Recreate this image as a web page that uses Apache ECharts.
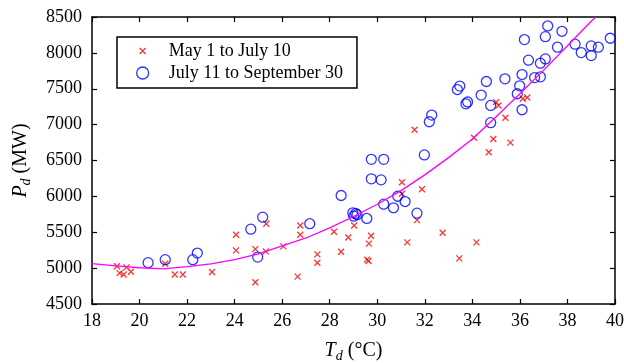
<!DOCTYPE html>
<html>
<head>
<meta charset="utf-8">
<script src="https://cdn.jsdelivr.net/npm/echarts@6/dist/echarts.min.js"></script>
<style>
  html, body { margin: 0; padding: 0; background: #fff; }
  #chart { width: 624px; height: 363px; }
</style>
</head>
<body>
<div id="chart"></div>
<script>
// May 1 to July 10
const earlyT = [19.05, 19.16, 19.33, 19.45, 19.64, 21.08, 21.48, 21.82, 23.05, 24.06, 24.06, 24.87, 24.87, 25.31, 25.33,
  26.05, 26.65, 26.76, 26.76, 27.48, 27.48, 28.18, 28.48, 28.78, 29.03, 29.74, 29.65, 29.57, 29.63, 31.04, 31.04,
  31.57, 31.88, 31.67, 31.26, 32.75, 33.45, 34.17, 34.07, 34.69, 34.88, 35.0, 35.1, 35.39, 35.6, 36.12, 36.31];
const earlyP = [5025, 4930, 4910, 5010, 4950, 5060, 4910, 4910, 4945, 5466, 5247, 5265, 4803, 5234, 5619,
  5303, 4882, 5595, 5466, 5192, 5076, 5507, 5229, 5428, 5595, 5452, 5341, 5118, 5099, 6197, 6036,
  6929, 6099, 5669, 5359, 5493, 5136, 5359, 6818, 6614, 6800, 7314, 7267, 7096, 6749, 7360, 7378];

// July 11 to September 30
const lateT = [20.36, 21.08, 22.24, 22.43, 24.68, 25.18, 24.97, 27.16, 28.48, 28.97, 29.01, 29.09, 29.15, 29.56,
  29.75, 30.27, 29.75, 30.16, 30.27, 30.68, 30.86, 31.17, 31.67, 31.98, 32.19, 32.29, 33.37, 33.47, 33.73, 33.8,
  34.37, 34.59, 34.77, 34.77, 35.37, 35.89, 35.99, 36.09, 36.09, 36.19, 36.36, 36.62, 36.86, 36.86, 37.07, 37.07,
  37.17, 37.58, 37.77, 38.32, 38.58, 39.0, 39.0, 39.3, 39.8];
const lateP = [5076, 5118, 5118, 5210, 5543, 5710, 5154, 5619, 6012, 5771, 5724, 5762, 5745, 5692,
  6516, 6516, 6244, 6230, 5891, 5841, 6002, 5928, 5766, 6578, 7040, 7133, 7489, 7537, 7290, 7315,
  7412, 7601, 7267, 7027, 7638, 7430, 7541, 7698, 7207, 8185, 7898, 7656, 7666, 7856, 7916, 8226,
  8375, 8079, 8301, 8121, 8004, 8097, 7962, 8079, 8204];

// fitted curve
const fitT = [18, 19, 20, 21, 22, 23, 24, 25, 26, 27, 28, 29, 30, 31, 32, 33, 34, 35, 36, 37, 38, 39, 39.2];
const fitP = [5062, 5030, 5005, 4990, 5020, 5060, 5120, 5200, 5310, 5420, 5560, 5720, 5890, 6080, 6300, 6540,
  6800, 7110, 7430, 7760, 8100, 8440, 8500];

const serif = 'Liberation Serif';
const zip = (a, b) => a.map((v, i) => [v, b[i]]);
// extra moveTo points pad the bounding box so the cross is drawn at half the symbol size
const crossPath = 'path://M0,0M10,10M2.5,2.5L7.5,7.5M7.5,2.5L2.5,7.5';

const chart = echarts.init(document.getElementById('chart'));
const axisCommon = {
  type: 'value',
  axisLine: { show: true, lineStyle: { color: '#000', width: 1.5 } },
  axisTick: { show: true, inside: true, length: 5, lineStyle: { color: '#000', width: 1.2 } },
  splitLine: { show: false },
};
const titleRich = {
  i: { fontFamily: serif, fontSize: 20, fontStyle: 'italic', color: '#000' },
  s: { fontFamily: serif, fontSize: 14, fontStyle: 'italic', color: '#000', padding: [10, 0, 0, 0] },
};
const option = {
  animation: false,
  grid: { left: 92, right: 9, top: 17, bottom: 59, outerBoundsMode: 'none' },
  legend: {
    left: 117,
    top: 37,
    orient: 'vertical',
    data: [
      { name: 'May 1 to July 10', itemStyle: { color: 'transparent', borderColor: '#ff0000', borderWidth: 1.3 } },
      { name: 'July 11 to September 30', itemStyle: { color: 'transparent', borderColor: '#0000ff', borderWidth: 1.3 } },
    ],
    itemWidth: 42,
    itemHeight: 12,
    itemGap: 4,
    padding: [5, 14, 6, 19],
    borderColor: '#000',
    borderWidth: 1.5,
    backgroundColor: '#fff',
    textStyle: { fontFamily: serif, fontSize: 18, color: '#000' },
  },
  xAxis: [
    {
      ...axisCommon,
      min: 18, max: 40, interval: 2,
      axisLabel: { fontFamily: serif, fontSize: 18, color: '#000', margin: 8 },
      name: '{i|T}{s|d} (°C)',
      nameLocation: 'middle',
      nameGap: 35,
      nameTextStyle: { fontFamily: serif, fontSize: 20, color: '#000', rich: titleRich },
    },
    { ...axisCommon, position: 'top', min: 18, max: 40, interval: 2, axisLabel: { show: false } },
  ],
  yAxis: [
    {
      ...axisCommon,
      min: 4500, max: 8500, interval: 500,
      axisLabel: { fontFamily: serif, fontSize: 18, color: '#000', margin: 10, formatter: (v) => String(v) },
      name: '{i|P}{s|d} (MW)',
      nameLocation: 'middle',
      nameRotate: 90,
      nameGap: 59,
      nameTextStyle: { fontFamily: serif, fontSize: 20, color: '#000', rich: titleRich },
    },
    { ...axisCommon, position: 'right', min: 4500, max: 8500, interval: 500, axisLabel: { show: false } },
  ],
  series: [
    {
      name: 'May 1 to July 10',
      type: 'scatter',
      data: zip(earlyT, earlyP),
      symbol: crossPath,
      symbolSize: 12,
      itemStyle: { color: 'transparent', borderColor: '#ff0000', borderWidth: 1.3 },
    },
    {
      name: 'July 11 to September 30',
      type: 'scatter',
      data: zip(lateT, lateP),
      symbol: 'circle',
      symbolSize: 10,
      itemStyle: { color: 'transparent', borderColor: '#0000ff', borderWidth: 1.3 },
    },
    {
      name: 'fit',
      type: 'line',
      data: zip(fitT, fitP),
      showSymbol: false,
      symbol: 'none',
      lineStyle: { color: '#ff00ff', width: 1.3 },
      z: 3,
    },
  ],
};
chart.setOption(option);
</script>
</body>
</html>
